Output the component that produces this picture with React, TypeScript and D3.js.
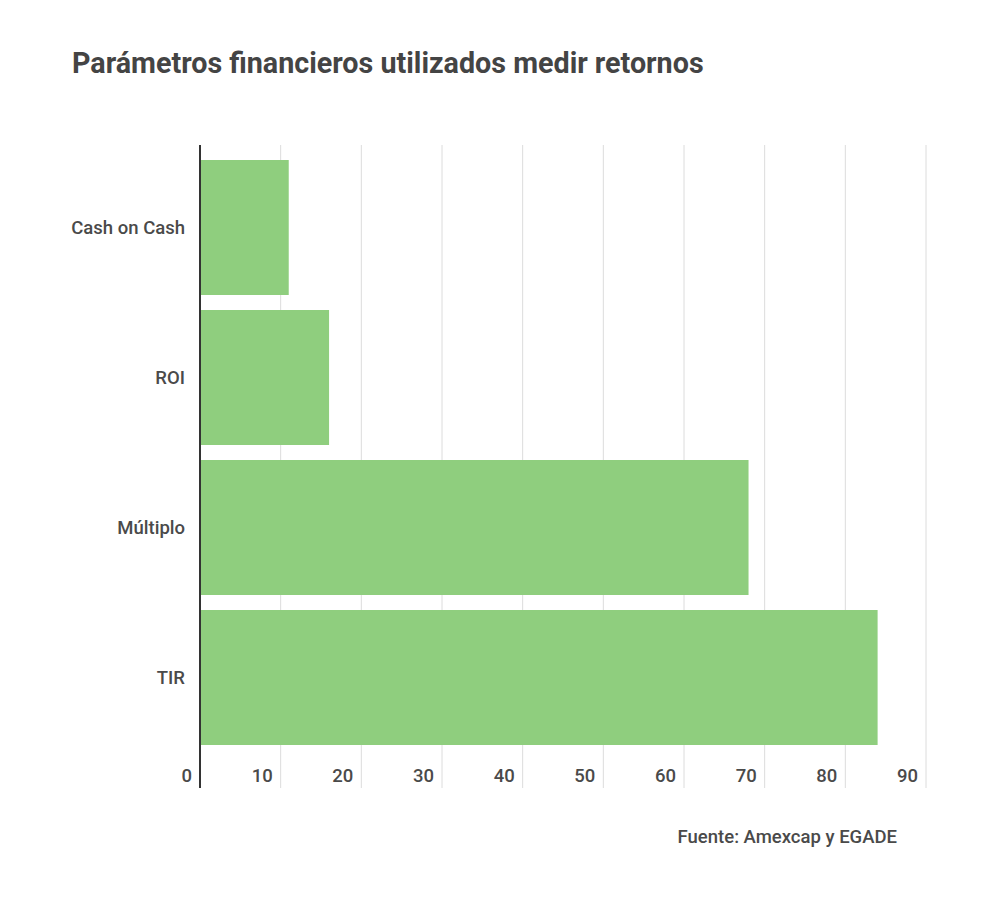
import React from 'react'
import * as d3 from 'd3'

const categories = ['Cash on Cash', 'ROI', 'Múltiplo', 'TIR']
const values = [11, 16, 68, 84]
const xTicks = [0, 10, 20, 30, 40, 50, 60, 70, 80, 90]

const title = 'Parámetros financieros utilizados medir retornos'
const source = 'Fuente: Amexcap y EGADE'

const width = 1000
const height = 907
const font = 'Roboto, "Noto Sans", sans-serif'

export default function App() {
    const x = d3.scaleLinear().domain([0, 90]).range([200, 926])
    const y = d3.scaleBand<string>()
        .domain(categories)
        .range([145, 760])
        .paddingInner(0.1)
        .paddingOuter(0.1)

    const gridTop = 145
    const gridBottom = 788

    return (
        <svg width={width} height={height} viewBox={`0 0 ${width} ${height}`}
            style={{ position: 'absolute', left: 0, top: 0, background: '#fff' }}>
            <text x={72} y={73} fontFamily={font} fontSize={28.7} fontWeight={700} fill="#444">{title}</text>

            {/* gridlines */}
            {xTicks.filter(t => t > 0).map(t => (
                <line key={t} x1={x(t)} x2={x(t)} y1={gridTop} y2={gridBottom} stroke="#dcdcdc" strokeWidth={1} />
            ))}

            {/* bars */}
            {categories.map((c, i) => (
                <rect key={c} x={x(0)} y={y(c)} width={x(values[i]) - x(0)} height={y.bandwidth()} fill="#8fce7e" />
            ))}

            {/* category labels */}
            {categories.map(c => (
                <text key={c} x={185} y={(y(c) ?? 0) + y.bandwidth() / 2} dy="0.35em" textAnchor="end"
                    fontFamily={font} fontSize={18.5} fontWeight={500} fill="#4a4a4a">{c}</text>
            ))}

            {/* tick labels */}
            {xTicks.map(t => (
                <text key={t} x={x(t) - 8} y={776} dy="0.35em" textAnchor="end"
                    fontFamily={font} fontSize={18.5} fontWeight={500} fill="#4a4a4a">{t}</text>
            ))}

            {/* baseline axis */}
            <line x1={x(0)} x2={x(0)} y1={gridTop} y2={gridBottom} stroke="#333" strokeWidth={2} />

            <text x={897} y={843} textAnchor="end" fontFamily={font} fontSize={18.5} fontWeight={500} fill="#4a4a4a">{source}</text>
        </svg>
    )
}
